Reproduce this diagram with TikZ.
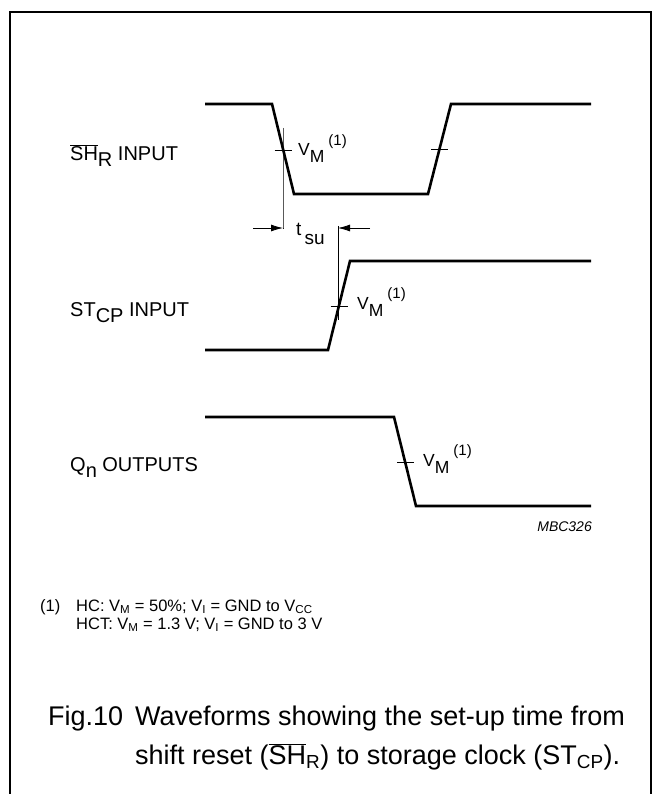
\documentclass[tikz,border=0pt]{standalone}
\usepackage{fontspec}
\setmainfont{Liberation Sans}
\usetikzlibrary{arrows.meta,positioning}
\newcommand{\lowr}[2][0.3em]{\raisebox{-#1}{#2}}
\newcommand{\barsh}{$\overline{\mbox{SH}}$}
\newcommand{\vmnote}{V\lowr[0.4em]{M}\hspace{4pt}\raisebox{0.6em}{\fontsize{15}{17}\selectfont(1)}}

\begin{document}
\begin{tikzpicture}[x=1pt, y=-1pt,
  wave/.style={line width=2.6pt, line join=miter},
  tickline/.style={line width=0.8pt},
  dimarrow/.style={-{Latex[length=12pt,width=7pt]}, line width=0.8pt},
  siglabel/.style={anchor=base west, inner sep=0pt, font=\fontsize{20}{24}\selectfont},
  vmlabel/.style={anchor=base west, inner sep=0pt, font=\fontsize{17.5}{20}\selectfont},
  note/.style={anchor=base west, inner sep=0pt, font=\fontsize{16.5}{18}\selectfont},
  figcap/.style={anchor=base west, inner sep=0pt, font=\fontsize{27}{32}\selectfont}
]
  \useasboundingbox (0,0) rectangle (660,794);
  % frame, open at the bottom
  \draw[line width=1.6pt] (10,794) -- (10,12) -- (651,12) -- (651,794);

  % signal names
  \node[siglabel] (shlab) at (70,161) {\barsh\lowr{R} INPUT};
  \node[siglabel] (stlab) at (70,316) {ST\lowr{CP} INPUT};
  \node[siglabel] (qlab) at (70,471) {Q\lowr{n} OUTPUTS};

  % waveforms
  \draw[wave] (205,104) -- (272,104) -- (294,194) -- (428,194) -- (451,104) -- (591,104);
  \draw[wave] (205,350) -- (328,350) -- (350,261) -- (591,261);
  \draw[wave] (205,417) -- (394,417) -- (416,506) -- (591,506);

  % V_M crossings
  \coordinate (shx) at (283,150);
  \coordinate (shx2) at (439.5,149);
  \coordinate (stx) at (339,306);
  \coordinate (qx) at (405.5,462);
  \foreach \c in {shx,shx2,stx,qx}
    \draw[tickline] (\c) +(-8.5,0) -- +(8.5,0);
  \node[vmlabel] (shvm) at (298,156) {\vmnote};
  \node[vmlabel] (stvm) at (357,309) {\vmnote};
  \node[vmlabel] (qvm) at (423,466) {\vmnote};

  % set-up time
  \coordinate (tsul) at (283,228);
  \coordinate (tsur) at (338,228);
  \draw[tickline] (283,128) -- (tsul) -- +(0,1);
  \draw[tickline] (338,226) -- (338,320);
  \coordinate (arrl) at (253,228);
  \coordinate (arrr) at (370,228);
  \draw[dimarrow] (arrl) -- (tsul);
  \draw[dimarrow] (arrr) -- (tsur);
  \node[anchor=base west, inner sep=0pt, font=\fontsize{19}{22}\selectfont] (tsu) at (296,236) {t\,\lowr[0.45em]{su}};

  \node[anchor=base east, inner sep=0pt, font=\fontsize{14}{16}\selectfont\itshape] (code) at (592,531) {MBC326};

  % note
  \node[note] (n1) at (40,611) {(1)};
  \node[note] (n2) at (76,611) {HC: V\textsubscript{M} = 50\%; V\textsubscript{I} = GND to V\textsubscript{CC}};
  \node[note] (n3) at (76,629) {HCT: V\textsubscript{M} = 1.3 V; V\textsubscript{I} = GND to 3 V};

  % caption
  \node[figcap] (fig) at (48,725) {Fig.10};
  \node[figcap] (cap1) at (135,725) {Waveforms showing the set-up time from};
  \node[figcap] (cap2) at (135,764) {shift reset (\barsh\textsubscript{R}) to storage clock (ST\textsubscript{CP}).};
\end{tikzpicture}
\end{document}
